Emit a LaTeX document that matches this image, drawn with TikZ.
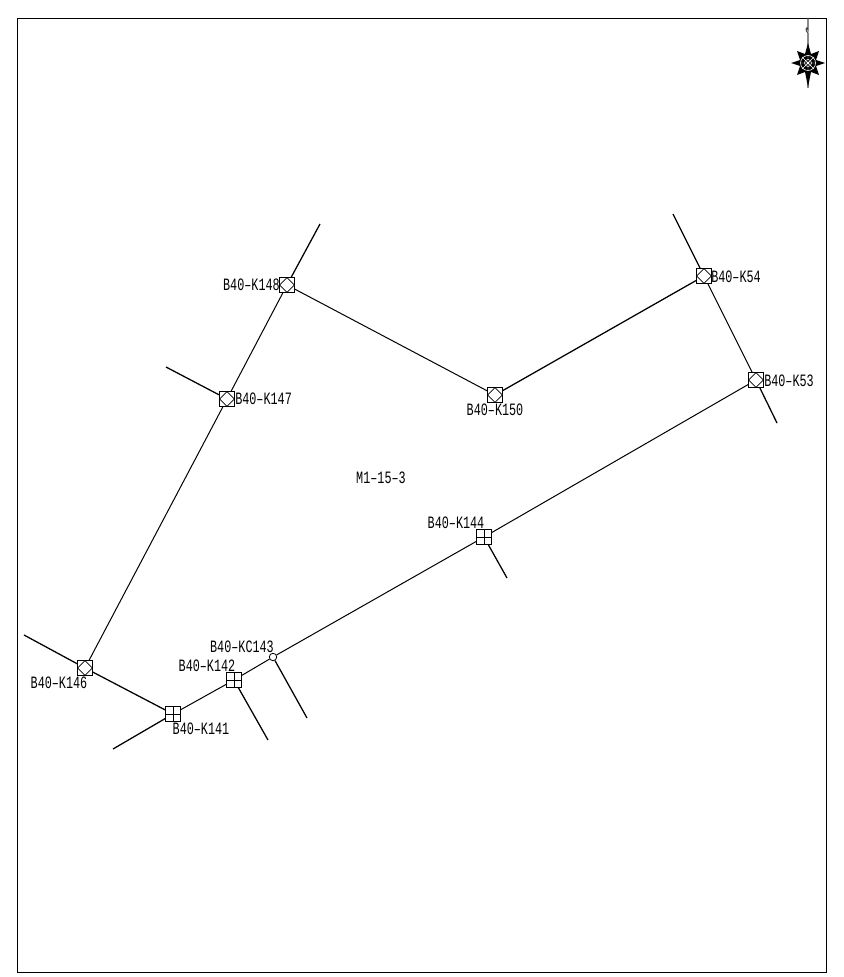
\documentclass[tikz,border=0pt]{standalone}
\usepackage{fontspec}
\setmainfont[FakeStretch=0.68]{Liberation Mono}
\begin{document}
\begin{tikzpicture}[x=0.75pt,y=-0.75pt,
  pipe/.style={line width=0.75pt,black},
  stub/.style={line width=0.95pt,black},
  lbl/.style={font=\fontsize{13pt}{14pt}\selectfont,inner sep=0pt,text=black},
  dbox/.style={draw,line width=0.75pt,minimum size=11pt,inner sep=0pt,fill=white,
    path picture={
      \draw[line width=0.6pt] (path picture bounding box.north) -- (path picture bounding box.east) -- (path picture bounding box.south) -- (path picture bounding box.west) -- cycle;
      \fill (path picture bounding box.center) circle (0.45pt);}},
  gbox/.style={draw,line width=0.75pt,minimum size=11pt,inner sep=0pt,fill=white,
    path picture={
      \draw[line width=0.6pt] (path picture bounding box.north) -- (path picture bounding box.south) (path picture bounding box.west) -- (path picture bounding box.east);}},
  cbox/.style={draw,circle,line width=0.6pt,minimum size=5.6pt,inner sep=0pt,fill=white,
    path picture={\fill (path picture bounding box.center) circle (0.35pt);}}
]
\useasboundingbox (0,0) rectangle (843,977);
\fill[white] (0,0) rectangle (843,977);
\node[draw,line width=0.7pt,minimum width=606.75pt,minimum height=715.5pt,inner sep=0pt,anchor=north west] (frame) at (17,18) {};

\node[dbox] (k148) at (287,285) {};
\node[dbox] (k147) at (227,399) {};
\node[dbox] (k146) at (85,668) {};
\node[gbox] (k141) at (173,714) {};
\node[gbox] (k142) at (234,680) {};
\node[cbox] (kc143) at (273,657) {};
\node[gbox] (k144) at (484,537) {};
\node[dbox] (k53) at (756,380) {};
\node[dbox] (k54) at (704,276) {};
\node[dbox] (k150) at (495,395) {};

\coordinate (e148) at (320,224);
\coordinate (e147) at (166,367);
\coordinate (e146) at (24,635);
\coordinate (e141) at (113,749);
\coordinate (e142) at (268,740);
\coordinate (e143) at (307,718);
\coordinate (e144) at (507,578);
\coordinate (e53) at (777,423);
\coordinate (e54) at (673,214);

\draw[pipe] (k146) -- (k147);
\draw[pipe] (k147) -- (k148);
\draw[pipe] (k148) -- (k150);
\draw[stub] (k150) -- (k54);
\draw[pipe] (k54) -- (k53);
\draw[pipe] (k53) -- (k144);
\draw[pipe] (k144) -- (kc143);
\draw[pipe] (kc143) -- (k142);
\draw[pipe] (k142) -- (k141);
\draw[stub] (k141) -- (k146);
\draw[stub] (k148) -- (e148);
\draw[stub] (k147) -- (e147);
\draw[stub] (k146) -- (e146);
\draw[stub] (k141) -- (e141);
\draw[stub] (k142) -- (e142);
\draw[stub] (kc143) -- (e143);
\draw[stub] (k144) -- (e144);
\draw[stub] (k53) -- (e53);
\draw[stub] (k54) -- (e54);

\node[lbl,anchor=east] (t148) at (280,285) {B40–K148};
\node[lbl,anchor=west] (t147) at (235,399) {B40–K147};
\node[lbl] (t146) at (59,683) {B40–K146};
\node[lbl] (t141) at (201,729) {B40–K141};
\node[lbl] (t142) at (207,666) {B40–K142};
\node[lbl] (t143) at (242,647) {B40–KC143};
\node[lbl] (t144) at (456,523) {B40–K144};
\node[lbl,anchor=west] (t53) at (764,381) {B40–K53};
\node[lbl,anchor=west] (t54) at (711,277) {B40–K54};
\node[lbl] (t150) at (495,410) {B40–K150};
\node[lbl] (tm) at (381,478) {M1–15–3};

% north arrow
\draw[line width=0.8pt,black!70] (808,18) -- (808,30) .. controls (806,25) and (805,31) .. (808,33) -- (808,88);
\fill[black] (808,43) -- (811,54) -- (819,51) -- (816,60) -- (825,63) -- (816,66) -- (819,75) -- (811,72) -- (808,87) -- (805,72) -- (797,75) -- (800,66) -- (791,63) -- (800,60) -- (797,51) -- (805,54) -- cycle;
\draw[white,line width=0.45pt] (808,63) circle (7.5) (808,63) circle (3.5);
\draw[white,line width=0.35pt] (800,63) -- (816,63) (808,55) -- (808,71) (802,57) -- (814,69) (802,69) -- (814,57);
\end{tikzpicture}
\end{document}
